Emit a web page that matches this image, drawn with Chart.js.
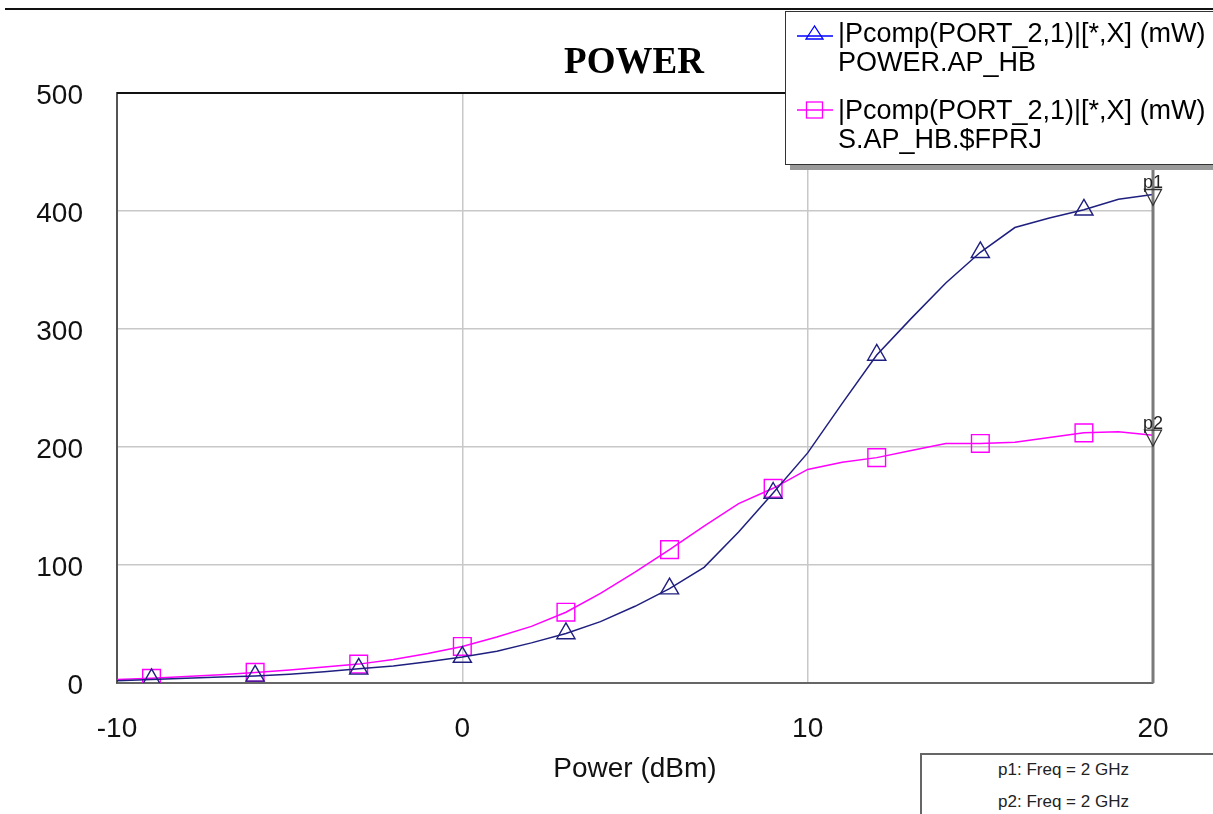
<!DOCTYPE html>
<html>
<head>
<meta charset="utf-8">
<script src="https://cdn.jsdelivr.net/npm/chart.js@4.4.1/dist/chart.umd.min.js"></script>
<style>
  html, body { margin:0; padding:0; background:#fff; overflow:hidden; }
  #wrap { position:relative; width:1213px; height:814px; }
  #topRule { position:absolute; left:5px; right:0; top:8px; height:0; border-top:2px solid #111; }
  #legendBox {
    position:absolute; left:785px; top:11px; width:440px; height:152px;
    background:#fff; border:1.5px solid #333; box-shadow:5px 5px 0 #9a9a9a;
    font-family:"Liberation Sans", Arial, sans-serif; font-size:27px; color:#000;
  }
  .item { position:absolute; left:0; }
  .item svg { position:absolute; left:11px; top:12px; }
  .item .txt { position:absolute; left:52px; top:7px; line-height:29px; white-space:nowrap; }
  #markerBox {
    position:absolute; left:920px; top:753px; width:300px; height:70px;
    border:2px solid #666; background:#fff;
    font-family:"Liberation Sans", Arial, sans-serif; font-size:17px; color:#222;
  }
  #markerBox div { position:absolute; left:0; width:283px; text-align:center; }
</style>
</head>
<body>
<div id="wrap">
  <canvas id="powerChart" width="1213" height="814"></canvas>
  <div id="topRule"></div>
  <div id="legendBox"></div>
  <div id="markerBox">
    <div style="top:5px">p1: Freq = 2 GHz</div>
    <div style="top:37px">p2: Freq = 2 GHz</div>
  </div>
</div>
<script>
// قيم المحور الأفقي (dBm)
const powerDbm = [-10,-9,-8,-7,-6,-5,-4,-3,-2,-1,0,1,2,3,4,5,6,7,8,9,10,11,12,13,14,15,16,17,18,19,20];
const powerApHb = [2,3,4,5,6,7.5,9.5,12,14.5,18,22,27,34,42,52,65,80,98,128,161,195,237,278,309,339,365,386,394,401,410,414];
const sApHbFprj = [3,4,5.5,7,9,11,13.5,16,20,25,31,39,48,60,76,94,113,133,152,165,181,187,191,197,203,203,204,208,212,213,210];
const xTicks = [-10, 0, 10, 20];
const yTicks = [0, 100, 200, 300, 400, 500];
const seriesNames = [
  ['|Pcomp(PORT_2,1)|[*,X] (mW)', 'POWER.AP_HB'],
  ['|Pcomp(PORT_2,1)|[*,X] (mW)', 'S.AP_HB.$FPRJ']
];
const markerNames = ['p1', 'p2'];

const markerEvery = i => (i % 3 === 1 && i < powerDbm.length - 1);

function toPoints(vals){
  return powerDbm.map((x, i) => ({ x: x, y: vals[i] }));
}

// عناصر إضافية: الإطار العلوي، خط العلامة، العنوان
const extrasPlugin = {
  id: 'extras',
  afterDraw(chart){
    const ctx = chart.ctx;
    const a = chart.chartArea;
    const xs = chart.scales.x, ys = chart.scales.y;
    ctx.save();
    // top frame
    ctx.strokeStyle = '#111'; ctx.lineWidth = 2;
    ctx.beginPath(); ctx.moveTo(a.left, a.top); ctx.lineTo(a.right, a.top); ctx.stroke();
    // marker line at last x
    const mx = xs.getPixelForValue(powerDbm[powerDbm.length - 1]);
    ctx.strokeStyle = '#7a7a7a'; ctx.lineWidth = 3;
    ctx.beginPath(); ctx.moveTo(mx, a.top); ctx.lineTo(mx, a.bottom); ctx.stroke();
    // p1 / p2 markers
    chart.data.datasets.forEach((ds, k) => {
      const last = ds.data[ds.data.length - 1];
      const px = xs.getPixelForValue(last.x), py = ys.getPixelForValue(last.y);
      ctx.strokeStyle = '#333'; ctx.lineWidth = 1.3;
      ctx.beginPath();
      ctx.moveTo(px - 8.5, py - 5); ctx.lineTo(px + 8.5, py - 5); ctx.lineTo(px, py + 11); ctx.closePath();
      ctx.stroke();
      ctx.fillStyle = '#222'; ctx.font = '18px "Liberation Sans", Arial, sans-serif';
      ctx.textAlign = 'center'; ctx.textBaseline = 'alphabetic';
      ctx.fillText(markerNames[k], px, py - 6);
    });
    // title
    ctx.fillStyle = '#000';
    ctx.font = 'bold 37px "Liberation Serif", "Times New Roman", serif';
    ctx.textAlign = 'center'; ctx.textBaseline = 'middle';
    ctx.fillText('POWER', 634, 63);
    // axis title
    ctx.font = '28px "Liberation Sans", Arial, sans-serif';
    ctx.fillStyle = '#111';
    ctx.fillText('Power (dBm)', (a.left + a.right) / 2, 769);
    ctx.restore();
  }
};

const ctx = document.getElementById('powerChart').getContext('2d');
const chart = new Chart(ctx, {
  type: 'line',
  data: {
    datasets: [
      {
        label: seriesNames[0].join(' '),
        data: toPoints(powerApHb),
        borderColor: '#1f1f80', borderWidth: 1.5,
        pointStyle: 'triangle',
        pointRadius: c => markerEvery(c.dataIndex) ? 10.5 : 0,
        pointBorderColor: '#1f1f80', pointBackgroundColor: 'rgba(0,0,0,0)', pointBorderWidth: 1.4,
        tension: 0, fill: false
      },
      {
        label: seriesNames[1].join(' '),
        data: toPoints(sApHbFprj),
        borderColor: '#ff00ff', borderWidth: 1.5,
        pointStyle: 'rect',
        pointRadius: c => markerEvery(c.dataIndex) ? 12.5 : 0,
        pointBorderColor: '#ff00ff', pointBackgroundColor: 'rgba(0,0,0,0)', pointBorderWidth: 1.4,
        tension: 0, fill: false
      }
    ]
  },
  options: {
    responsive: false,
    animation: false,
    devicePixelRatio: 1,
    layout: { padding: { top: 93, right: 60, bottom: 0, left: 0 } },
    plugins: { legend: { display: false }, title: { display: false }, tooltip: { enabled: false } },
    scales: {
      x: {
        type: 'linear', min: -10, max: 20,
        afterBuildTicks: s => { s.ticks = xTicks.map(v => ({ value: v })); },
        afterFit: s => { s.height = 131; },
        ticks: { color: '#111', padding: 29, font: { family: '"Liberation Sans", Arial, sans-serif', size: 28 } },
        grid: { color: '#c8c8c8', lineWidth: 1.5, drawTicks: false },
        border: { display: true, color: '#666', width: 2 }
      },
      y: {
        type: 'linear', min: 0, max: 500,
        afterBuildTicks: s => { s.ticks = yTicks.map(v => ({ value: v })); },
        afterFit: s => { s.width = 117; },
        ticks: { color: '#111', padding: 34, labelOffset: 3, font: { family: '"Liberation Sans", Arial, sans-serif', size: 28 } },
        grid: { color: '#c8c8c8', lineWidth: 1.5, drawTicks: false },
        border: { display: true, color: '#555', width: 2 }
      }
    }
  },
  plugins: [extrasPlugin]
});

// وسيلة الإيضاح من بيانات الرسم
const legendBox = document.getElementById('legendBox');
const legendColors = ['#0000ff', '#ff00ff'];
const legendShapes = [
  '<polygon points="17.5,2 9,15 26,15" fill="none" stroke-width="1.3"/>',
  '<rect x="9.5" y="1" width="16" height="16" fill="none" stroke-width="1.3"/>'
];
chart.data.datasets.forEach((ds, k) => {
  const item = document.createElement('div');
  item.className = 'item';
  item.style.top = (k === 0 ? 0 : 77) + 'px';
  const col = legendColors[k];
  const ly = (k === 0 ? 12 : 9);
  item.innerHTML =
    '<svg width="36" height="18" stroke="' + col + '"><line x1="0" y1="' + ly + '" x2="36" y2="' + ly + '" stroke-width="1.3"/>' + legendShapes[k] + '</svg>' +
    '<div class="txt">' + seriesNames[k][0] + '<br>' + seriesNames[k][1] + '</div>';
  legendBox.appendChild(item);
});
</script>
</body>
</html>
